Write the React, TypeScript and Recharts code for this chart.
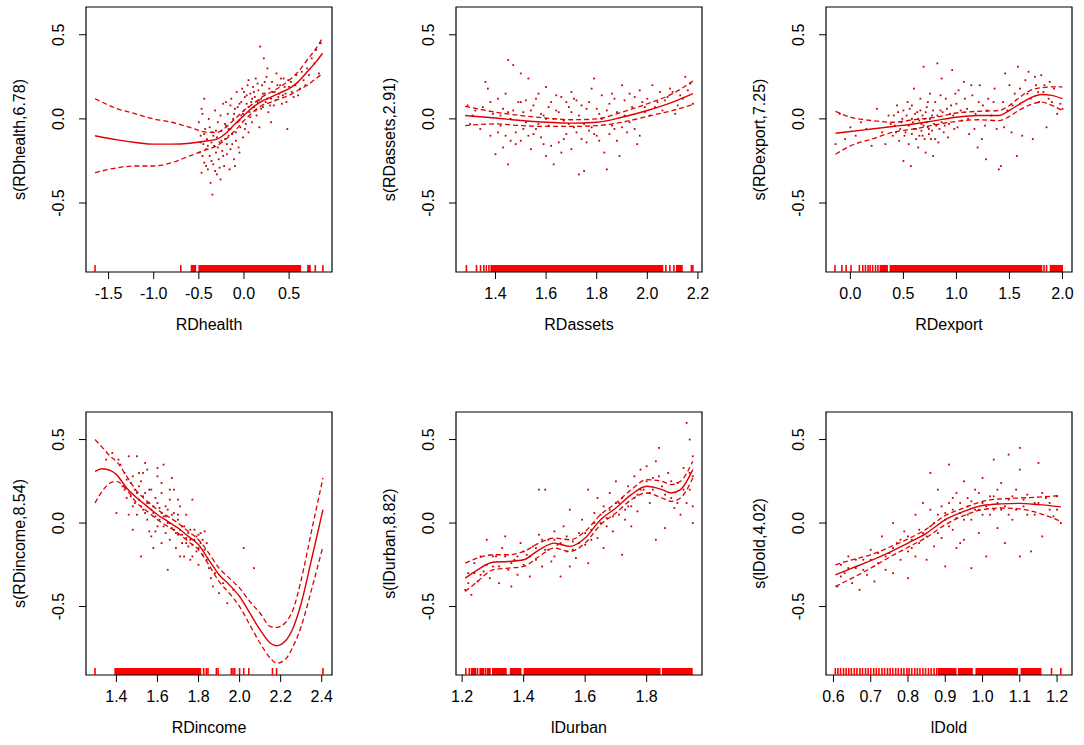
import React from 'react';
import { ComposedChart, Scatter, Line, XAxis, YAxis, ReferenceArea } from 'recharts';

const FONT = '"Liberation Sans", Arial, Helvetica, sans-serif';
const LINE = '#e00000';
const DOT = '#c40000';
const RUG = '#ff0000';
const Y_DOMAIN: [number, number] = [-0.91, 0.665];
const Y_TICKS = [-0.5, 0, 0.5];

// ---------- Panel 1: RDhealth ----------
const healthX = [-1.65, -1.4, -1.2, -1.0, -0.8, -0.6, -0.4, -0.3, -0.2, -0.1, 0.0, 0.1, 0.2, 0.3, 0.4, 0.5, 0.6, 0.7, 0.8, 0.87];
const healthFit = [-0.1, -0.125, -0.14, -0.15, -0.15, -0.145, -0.13, -0.12, -0.085, -0.03, 0.02, 0.07, 0.105, 0.13, 0.155, 0.18, 0.22, 0.28, 0.34, 0.39];
const healthUp = [0.12, 0.06, 0.03, 0.0, -0.02, -0.05, -0.08, -0.08, -0.05, 0.0, 0.05, 0.09, 0.13, 0.16, 0.19, 0.23, 0.28, 0.35, 0.42, 0.48];
const healthLo = [-0.32, -0.29, -0.28, -0.28, -0.26, -0.22, -0.18, -0.16, -0.12, -0.07, -0.01, 0.04, 0.08, 0.1, 0.12, 0.14, 0.17, 0.2, 0.24, 0.27];
const healthPts = [[-0.5,-0.02],[-0.49,-0.2],[-0.48,-0.1],[-0.47,-0.32],[-0.46,0.03],[-0.45,-0.15],[-0.44,-0.26],[-0.43,-0.06],[-0.42,-0.18],[-0.41,-0.12],[-0.4,-0.3],[-0.39,0.0],[-0.38,-0.22],[-0.37,-0.38],[-0.36,-0.14],[-0.35,-0.45],[-0.35,-0.08],[-0.34,-0.27],[-0.33,-0.16],[-0.32,0.05],[-0.31,-0.2],[-0.3,-0.33],[-0.3,-0.11],[-0.29,-0.02],[-0.28,-0.24],[-0.27,-0.14],[-0.26,-0.36],[-0.25,-0.07],[-0.24,-0.19],[-0.23,0.09],[-0.22,-0.28],[-0.21,-0.12],[-0.2,-0.04],[-0.19,-0.21],[-0.18,0.03],[-0.17,-0.1],[-0.16,-0.3],[-0.15,-0.06],[-0.14,0.12],[-0.13,-0.15],[-0.12,0.0],[-0.11,-0.24],[-0.1,0.06],[-0.09,-0.08],[-0.08,0.16],[-0.07,-0.02],[-0.06,-0.17],[-0.05,0.09],[-0.04,-0.05],[-0.03,0.02],[-0.02,0.18],[-0.01,-0.11],[0.0,0.05],[0.01,0.13],[0.02,-0.03],[0.03,0.09],[0.04,0.2],[0.05,-0.08],[0.06,0.04],[0.07,0.15],[0.08,0.1],[0.09,-0.02],[0.1,0.19],[0.11,0.07],[0.12,0.13],[0.13,0.24],[0.14,0.02],[0.15,0.1],[0.16,0.17],[0.17,-0.05],[0.18,0.43],[0.19,0.12],[0.2,0.2],[0.21,0.07],[0.22,0.36],[0.23,0.15],[0.24,0.1],[0.25,0.25],[0.27,0.04],[0.28,0.18],[0.3,0.12],[0.31,0.22],[0.33,0.08],[0.34,0.16],[0.36,0.27],[0.38,0.13],[0.4,0.2],[0.42,0.09],[0.44,0.24],[0.46,0.15],[0.48,-0.06],[0.5,0.19],[0.52,0.22],[0.55,0.13],[0.58,0.26],[0.62,0.18],[0.66,0.23],[0.7,0.3],[0.75,0.36],[0.8,0.41],[0.83,0.27],[0.85,0.45],[-0.44,0.12],[-0.26,0.02],[-0.1,-0.28],[0.05,0.23],[0.3,-0.02],[-0.05,-0.2],
  [-0.48,-0.14],[-0.46,-0.22],[-0.44,-0.09],[-0.42,-0.28],[-0.4,-0.16],[-0.38,-0.05],[-0.36,-0.25],[-0.34,-0.1],[-0.32,-0.31],[-0.31,-0.07],[-0.29,-0.17],[-0.27,-0.29],[-0.25,-0.13],[-0.23,-0.22],[-0.21,-0.03],[-0.19,-0.15],[-0.17,-0.06],[-0.15,-0.18],[-0.13,-0.09],[-0.11,0.03],[-0.09,-0.13],[-0.07,0.07],[-0.05,-0.01],[-0.03,0.1],[-0.01,0.03],[0.01,-0.06],[0.03,0.14],[0.05,0.07],[0.07,0.01],[0.09,0.12],[0.11,0.16],[0.13,0.05],[0.15,0.21],[0.17,0.11],[0.19,0.06],[0.21,0.15],[0.23,0.22],[0.26,0.12],[0.29,0.08],[0.32,0.16],[0.35,0.11],[0.37,0.2],[0.39,0.15],[0.41,0.24],[0.43,0.14],[0.45,0.19],[0.47,0.1],[0.49,0.23],[0.53,0.16],[0.57,0.2],[0.6,0.14],[0.64,0.28],[0.68,0.2],[0.72,0.26],[0.78,0.33],[-0.47,0.06],[-0.2,0.1],[0.0,0.16],[0.26,0.3],[-0.15,0.08]];
const healthRug = [-1.65, -0.7, 0.79, 0.874];
const healthRugBlocks = [[-0.59, -0.53], [-0.505, 0.633], [0.7, 0.74]];

// ---------- Panel 2: RDassets ----------
const assetsX = [1.28, 1.4, 1.5, 1.6, 1.7, 1.8, 1.9, 2.0, 2.1, 2.18];
const assetsFit = [0.02, 0.005, -0.01, -0.02, -0.025, -0.02, 0.01, 0.05, 0.1, 0.15];
const assetsUp = [0.075, 0.04, 0.02, 0.005, -0.005, 0.0, 0.04, 0.09, 0.15, 0.225];
const assetsLo = [-0.04, -0.03, -0.04, -0.045, -0.045, -0.04, -0.02, 0.015, 0.05, 0.085];
const assetsPts = [[1.29,0.08],[1.3,-0.03],[1.32,0.05],[1.34,-0.06],[1.36,0.22],[1.37,0.18],[1.38,-0.1],[1.39,0.03],[1.4,-0.21],[1.41,0.12],[1.42,-0.04],[1.43,0.06],[1.43,-0.17],[1.44,0.15],[1.45,-0.27],[1.45,0.35],[1.46,0.0],[1.47,0.32],[1.48,-0.08],[1.49,0.1],[1.5,0.27],[1.5,-0.13],[1.51,0.04],[1.52,-0.02],[1.53,0.24],[1.54,-0.18],[1.55,0.08],[1.56,-0.06],[1.57,0.15],[1.58,-0.11],[1.59,0.02],[1.6,0.19],[1.6,-0.22],[1.61,-0.04],[1.62,0.1],[1.63,-0.27],[1.64,0.05],[1.65,-0.14],[1.66,0.13],[1.67,-0.01],[1.68,-0.09],[1.69,0.07],[1.7,0.16],[1.7,-0.18],[1.71,-0.05],[1.72,0.11],[1.73,-0.33],[1.73,0.02],[1.74,-0.12],[1.75,-0.31],[1.76,0.06],[1.77,-0.07],[1.78,0.18],[1.79,0.24],[1.8,-0.1],[1.81,0.03],[1.82,0.14],[1.83,-0.2],[1.84,-0.3],[1.85,0.09],[1.86,-0.04],[1.87,0.12],[1.88,-0.13],[1.89,-0.22],[1.9,0.2],[1.91,0.02],[1.92,-0.08],[1.93,0.15],[1.94,0.07],[1.95,-0.06],[1.96,-0.15],[1.97,0.17],[1.98,0.1],[1.99,0.04],[2.0,0.12],[2.02,0.2],[2.03,0.07],[2.05,0.16],[2.07,0.11],[2.09,0.18],[2.11,0.03],[2.13,0.14],[2.15,0.25],[2.17,0.21],[2.18,0.09],[1.52,0.11],[1.66,-0.2],[1.57,-0.03],[1.84,0.05],[1.62,-0.16],[1.77,0.1],[1.46,-0.13],
  [1.31,0.02],[1.35,0.07],[1.38,0.1],[1.41,-0.08],[1.42,0.02],[1.44,-0.1],[1.47,0.05],[1.48,-0.15],[1.5,0.1],[1.51,-0.06],[1.53,-0.1],[1.54,0.05],[1.56,0.12],[1.58,0.03],[1.59,-0.15],[1.61,0.07],[1.63,0.0],[1.64,0.14],[1.65,0.04],[1.67,-0.12],[1.68,0.1],[1.69,-0.03],[1.71,0.12],[1.72,-0.08],[1.74,0.08],[1.75,-0.03],[1.76,-0.14],[1.78,-0.05],[1.8,0.06],[1.81,-0.13],[1.82,0.0],[1.85,-0.09],[1.86,0.15],[1.88,0.04],[1.9,-0.05],[1.91,0.11],[1.93,-0.02],[1.95,0.13],[1.97,-0.1],[1.99,0.07],[2.01,0.02],[2.04,0.1],[2.06,0.05],[2.08,0.13],[2.1,0.16],[2.12,0.08],[2.14,0.12],[2.16,0.17],[1.45,0.04],[1.55,-0.09],[1.6,0.0],[1.7,0.04],[1.79,-0.09],[1.87,-0.06]];
const assetsRug = [1.285, 1.325, 1.341, 1.354, 1.364, 1.374, 2.073, 2.089, 2.105, 2.174, 2.18];
const assetsRugBlocks = [[1.38, 2.063], [2.113, 2.14]];

// ---------- Panel 3: RDexport ----------
const exportX = [-0.14, 0.0, 0.2, 0.4, 0.6, 0.8, 1.0, 1.2, 1.4, 1.5, 1.6, 1.7, 1.8, 1.9, 2.0];
const exportFit = [-0.085, -0.075, -0.06, -0.045, -0.03, -0.01, 0.01, 0.02, 0.02, 0.05, 0.09, 0.125, 0.145, 0.14, 0.12];
const exportUp = [0.045, 0.01, -0.01, -0.02, -0.005, 0.01, 0.035, 0.045, 0.05, 0.08, 0.13, 0.17, 0.185, 0.19, 0.19];
const exportLo = [-0.21, -0.16, -0.12, -0.08, -0.06, -0.035, -0.015, -0.005, -0.01, 0.015, 0.055, 0.085, 0.1, 0.08, 0.05];
const exportPts = [[-0.14,-0.15],[-0.1,0.03],[-0.05,-0.12],[0.0,-0.05],[0.05,-0.1],[0.1,-0.02],[0.15,-0.06],[0.2,-0.16],[0.25,0.06],[0.3,-0.08],[0.33,-0.15],[0.36,0.02],[0.4,-0.1],[0.42,-0.04],[0.44,0.08],[0.46,-0.13],[0.48,-0.02],[0.5,0.05],[0.5,-0.25],[0.52,-0.08],[0.54,0.1],[0.55,-0.15],[0.57,-0.28],[0.58,0.0],[0.6,-0.06],[0.6,0.18],[0.62,-0.12],[0.63,0.04],[0.64,-0.17],[0.66,0.12],[0.67,-0.03],[0.68,-0.1],[0.69,0.31],[0.7,0.0],[0.71,-0.2],[0.72,0.07],[0.73,-0.05],[0.75,0.15],[0.76,-0.12],[0.77,0.02],[0.78,-0.22],[0.8,0.1],[0.81,-0.04],[0.82,0.33],[0.83,-0.14],[0.85,0.05],[0.86,0.24],[0.88,-0.08],[0.9,0.12],[0.92,-0.11],[0.94,0.03],[0.96,0.29],[0.98,-0.06],[1.0,0.09],[1.02,0.17],[1.05,-0.01],[1.07,0.22],[1.1,0.06],[1.12,-0.09],[1.15,0.14],[1.18,0.03],[1.2,-0.17],[1.22,0.2],[1.25,0.08],[1.27,-0.04],[1.28,-0.24],[1.3,0.12],[1.33,0.02],[1.36,0.18],[1.38,-0.06],[1.4,-0.3],[1.42,-0.28],[1.44,0.1],[1.46,0.27],[1.48,0.05],[1.5,0.2],[1.52,-0.08],[1.55,0.15],[1.57,-0.22],[1.58,0.31],[1.6,0.09],[1.62,-0.1],[1.65,0.23],[1.68,0.28],[1.7,0.12],[1.72,-0.12],[1.75,0.2],[1.78,0.1],[1.8,0.26],[1.82,0.16],[1.85,-0.05],[1.88,0.22],[1.9,0.1],[1.95,0.03],[2.0,0.06],[0.65,-0.01],[0.74,-0.06],[0.86,-0.02],[0.58,0.08],
  [0.38,-0.03],[0.41,0.02],[0.43,-0.08],[0.45,0.04],[0.47,-0.06],[0.49,0.0],[0.51,-0.1],[0.53,0.02],[0.55,-0.04],[0.56,0.06],[0.58,-0.09],[0.59,-0.02],[0.61,0.03],[0.62,-0.06],[0.64,0.0],[0.65,-0.1],[0.66,0.05],[0.67,-0.07],[0.68,0.02],[0.69,-0.04],[0.7,-0.12],[0.71,0.04],[0.72,-0.02],[0.73,0.1],[0.74,-0.09],[0.75,0.0],[0.77,-0.07],[0.78,0.05],[0.79,-0.03],[0.8,-0.12],[0.82,0.02],[0.84,-0.06],[0.85,0.14],[0.87,0.04],[0.89,-0.04],[0.91,0.06],[0.93,-0.03],[0.95,0.08],[0.97,0.02],[0.99,0.15],[1.01,-0.05],[1.04,0.05],[1.08,0.12],[1.11,0.0],[1.14,0.2],[1.17,-0.06],[1.21,0.1],[1.24,-0.12],[1.29,0.05],[1.35,0.1],[1.45,-0.05],[1.53,0.08],[1.6,0.18],[1.67,0.15],[1.74,0.25],[1.77,0.16],[1.83,0.2],[1.87,0.12],[1.92,0.18],[1.98,0.09]];
const exportRug = [-0.145, -0.08, -0.04, 0.006, 0.085, 0.117, 0.142, 0.167, 0.186, 0.21, 0.237, 0.26, 1.826, 1.85];
const exportRugBlocks = [[0.275, 0.354], [0.37, 1.81], [1.88, 2.005]];

// ---------- Panel 4: RDincome ----------
const incomeX = [1.296, 1.33, 1.37, 1.4, 1.45, 1.5, 1.55, 1.6, 1.65, 1.7, 1.75, 1.8, 1.85, 1.9, 1.95, 2.0, 2.05, 2.1, 2.15, 2.18, 2.22, 2.26, 2.3, 2.35, 2.406];
const incomeFit = [0.31, 0.325, 0.315, 0.29, 0.21, 0.15, 0.1, 0.05, 0.01, -0.03, -0.08, -0.13, -0.22, -0.31, -0.37, -0.44, -0.54, -0.64, -0.72, -0.735, -0.71, -0.63, -0.48, -0.22, 0.08];
const incomeUp = [0.5, 0.455, 0.4, 0.37, 0.28, 0.19, 0.13, 0.08, 0.04, 0.0, -0.05, -0.1, -0.18, -0.27, -0.33, -0.39, -0.47, -0.54, -0.62, -0.625, -0.6, -0.52, -0.34, -0.05, 0.27];
const incomeLo = [0.12, 0.19, 0.24, 0.25, 0.2, 0.12, 0.07, 0.02, -0.02, -0.06, -0.11, -0.16, -0.25, -0.35, -0.42, -0.5, -0.61, -0.72, -0.81, -0.84, -0.82, -0.74, -0.62, -0.4, -0.14];
const incomePts = [[1.38,0.42],[1.4,0.06],[1.42,0.35],[1.43,0.22],[1.44,0.3],[1.45,0.15],[1.46,0.4],[1.47,0.24],[1.48,0.1],[1.49,0.2],[1.5,0.4],[1.5,0.05],[1.51,0.14],[1.52,-0.2],[1.52,0.25],[1.53,0.08],[1.54,0.18],[1.55,0.02],[1.55,0.32],[1.56,0.12],[1.57,-0.08],[1.57,0.2],[1.58,0.06],[1.59,0.15],[1.6,-0.02],[1.6,0.28],[1.61,0.09],[1.62,-0.12],[1.62,0.18],[1.63,0.04],[1.63,0.35],[1.64,-0.06],[1.64,0.1],[1.65,0.0],[1.65,-0.28],[1.66,0.14],[1.66,-0.1],[1.67,0.05],[1.68,-0.04],[1.68,0.2],[1.69,-0.15],[1.7,0.02],[1.7,-0.07],[1.71,0.1],[1.72,-0.12],[1.72,-0.02],[1.73,-0.2],[1.74,0.05],[1.74,-0.09],[1.75,-0.14],[1.76,-0.04],[1.76,-0.22],[1.77,0.14],[1.78,-0.1],[1.79,-0.17],[1.8,-0.07],[1.8,-0.25],[1.81,-0.12],[1.82,-0.19],[1.83,-0.05],[1.84,-0.22],[1.85,-0.27],[1.86,-0.33],[1.87,-0.38],[1.88,-0.3],[1.9,-0.42],[1.92,-0.36],[1.94,-0.48],[1.97,-0.4],[2.02,-0.15],[2.07,-0.27],[1.58,-0.15],[1.53,0.3],[1.46,0.05],[1.41,0.38],[1.48,-0.04],[1.67,0.27],[1.59,-0.05],[1.71,-0.2],[1.35,0.38],
  [1.44,0.2],[1.45,0.26],[1.47,0.16],[1.48,0.28],[1.49,0.12],[1.5,0.18],[1.51,0.22],[1.52,0.1],[1.53,0.16],[1.54,0.06],[1.55,0.12],[1.56,0.2],[1.57,0.08],[1.58,0.1],[1.59,0.04],[1.6,0.12],[1.61,0.02],[1.62,0.06],[1.63,-0.02],[1.64,0.04],[1.65,0.08],[1.66,0.0],[1.67,-0.03],[1.68,0.06],[1.69,-0.06],[1.7,0.05],[1.71,-0.04],[1.72,-0.07],[1.73,-0.02],[1.74,-0.12],[1.75,-0.06],[1.76,-0.1],[1.77,-0.13],[1.78,-0.04],[1.79,-0.08],[1.8,-0.15],[1.81,-0.06],[1.82,-0.1],[1.83,-0.16],[1.84,-0.12],[1.62,0.24],[1.66,0.2],[1.56,-0.05],[1.6,0.33],[1.7,0.14],[1.77,-0.2],[1.51,0.3],[1.54,0.36]];
const incomeRug = [1.296, 1.825, 1.838, 1.846, 1.887, 1.895, 1.96, 1.968, 1.976, 2.0, 2.02, 2.045, 2.16, 2.18, 2.406];
const incomeRugBlocks = [[1.39, 1.813]];

// ---------- Panel 5: lDurban ----------
const urbanX = [1.21, 1.25, 1.3, 1.35, 1.4, 1.45, 1.5, 1.55, 1.6, 1.65, 1.7, 1.75, 1.8, 1.85, 1.88, 1.91, 1.95];
const urbanFit = [-0.33, -0.28, -0.235, -0.23, -0.22, -0.16, -0.12, -0.14, -0.09, 0.02, 0.09, 0.17, 0.22, 0.2, 0.18, 0.2, 0.32];
const urbanUp = [-0.24, -0.21, -0.19, -0.19, -0.17, -0.12, -0.09, -0.1, -0.05, 0.05, 0.12, 0.2, 0.26, 0.25, 0.23, 0.25, 0.37];
const urbanLo = [-0.41, -0.35, -0.28, -0.27, -0.26, -0.2, -0.15, -0.17, -0.12, -0.01, 0.06, 0.14, 0.18, 0.15, 0.13, 0.15, 0.27];
const urbanPts = [[1.21,-0.4],[1.22,-0.3],[1.23,-0.43],[1.24,-0.24],[1.25,-0.35],[1.26,-0.2],[1.27,-0.29],[1.28,-0.1],[1.29,-0.33],[1.3,-0.26],[1.31,-0.2],[1.32,-0.36],[1.33,-0.15],[1.34,-0.08],[1.35,-0.28],[1.36,-0.38],[1.37,-0.22],[1.38,-0.31],[1.39,-0.12],[1.4,-0.25],[1.41,-0.19],[1.42,-0.32],[1.43,-0.14],[1.44,-0.22],[1.45,0.2],[1.45,-0.07],[1.46,-0.26],[1.47,0.2],[1.47,-0.16],[1.48,-0.1],[1.49,-0.23],[1.5,-0.05],[1.5,-0.2],[1.51,-0.13],[1.52,-0.32],[1.53,-0.02],[1.54,-0.17],[1.55,0.08],[1.55,-0.26],[1.56,-0.11],[1.57,-0.21],[1.58,-0.06],[1.59,0.02],[1.6,-0.13],[1.61,-0.24],[1.61,0.2],[1.62,-0.04],[1.63,0.06],[1.64,-0.09],[1.64,0.15],[1.65,0.0],[1.66,-0.15],[1.66,0.1],[1.67,0.03],[1.68,0.18],[1.69,-0.05],[1.7,0.12],[1.7,0.25],[1.71,0.05],[1.72,-0.19],[1.72,0.15],[1.73,0.08],[1.74,0.22],[1.75,0.1],[1.75,-0.02],[1.76,0.28],[1.77,0.17],[1.78,0.32],[1.79,0.2],[1.8,0.34],[1.81,0.12],[1.82,0.27],[1.83,-0.1],[1.83,0.37],[1.84,0.45],[1.85,0.22],[1.86,-0.03],[1.87,0.3],[1.88,0.15],[1.89,0.09],[1.9,0.24],[1.91,0.05],[1.92,0.33],[1.93,0.12],[1.93,0.6],[1.94,0.5],[1.94,0.2],[1.95,0.4],[1.95,0.0],[1.95,0.28],
  [1.22,-0.36],[1.24,-0.3],[1.26,-0.31],[1.28,-0.25],[1.3,-0.2],[1.32,-0.26],[1.34,-0.2],[1.36,-0.24],[1.38,-0.2],[1.4,-0.17],[1.42,-0.2],[1.44,-0.15],[1.46,-0.1],[1.48,-0.16],[1.5,-0.1],[1.52,-0.12],[1.54,-0.08],[1.56,-0.16],[1.58,-0.12],[1.6,-0.06],[1.62,-0.1],[1.63,0.0],[1.65,0.05],[1.67,-0.02],[1.68,0.08],[1.69,0.04],[1.71,0.12],[1.73,0.02],[1.74,0.1],[1.76,0.15],[1.77,0.07],[1.78,0.2],[1.8,0.25],[1.81,0.18],[1.82,0.2],[1.84,0.28],[1.86,0.17],[1.88,0.25],[1.9,0.12],[1.92,0.2],[1.94,0.3],[1.95,0.1]];
const urbanRug = [1.212, 1.223, 1.25, 1.276];
const urbanRugBlocks = [[1.228, 1.246], [1.256, 1.272], [1.28, 1.293], [1.297, 1.345], [1.355, 1.393], [1.4, 1.845], [1.85, 1.95]];

// ---------- Panel 6: lDold ----------
const oldX = [0.605, 0.65, 0.7, 0.75, 0.8, 0.85, 0.9, 0.95, 1.0, 1.05, 1.1, 1.15, 1.21];
const oldFit = [-0.31, -0.27, -0.225, -0.175, -0.12, -0.06, 0.02, 0.07, 0.105, 0.115, 0.118, 0.11, 0.097];
const oldUp = [-0.25, -0.22, -0.19, -0.145, -0.095, -0.035, 0.045, 0.09, 0.13, 0.145, 0.15, 0.155, 0.165];
const oldLo = [-0.38, -0.33, -0.27, -0.205, -0.145, -0.085, -0.01, 0.045, 0.08, 0.09, 0.085, 0.06, 0.01];
const oldPts = [[0.61,-0.38],[0.62,-0.25],[0.63,-0.3],[0.64,-0.2],[0.65,-0.36],[0.66,-0.27],[0.67,-0.4],[0.68,-0.22],[0.69,-0.31],[0.7,-0.16],[0.71,-0.35],[0.72,-0.24],[0.73,-0.08],[0.74,-0.28],[0.75,-0.18],[0.76,0.0],[0.76,-0.3],[0.77,-0.12],[0.78,-0.22],[0.79,-0.05],[0.8,-0.17],[0.8,-0.33],[0.81,-0.1],[0.82,0.05],[0.82,-0.2],[0.83,-0.12],[0.84,0.12],[0.84,-0.06],[0.85,-0.22],[0.86,-0.02],[0.86,0.3],[0.87,-0.14],[0.88,0.05],[0.88,0.2],[0.89,-0.09],[0.9,0.02],[0.9,-0.26],[0.91,0.35],[0.91,0.12],[0.92,-0.04],[0.93,0.18],[0.93,-0.15],[0.94,0.06],[0.95,0.25],[0.95,-0.1],[0.96,0.1],[0.97,-0.27],[0.97,0.02],[0.98,0.2],[0.99,-0.06],[1.0,0.27],[1.0,0.12],[1.01,-0.2],[1.02,0.05],[1.03,0.38],[1.03,0.16],[1.04,-0.03],[1.05,0.24],[1.05,0.08],[1.06,-0.12],[1.07,0.41],[1.07,0.14],[1.08,0.02],[1.09,0.2],[1.1,-0.2],[1.1,0.32],[1.11,0.1],[1.12,0.17],[1.13,-0.17],[1.14,0.05],[1.15,0.36],[1.15,0.12],[1.16,-0.08],[1.17,0.15],[1.18,0.08],[1.19,0.04],[1.2,0.16],[1.21,0.0],[1.1,0.45],[0.96,0.15],[0.94,-0.12],[0.99,0.08],[1.04,0.12],[0.92,0.08],
  [0.62,-0.32],[0.64,-0.27],[0.66,-0.22],[0.68,-0.28],[0.7,-0.22],[0.72,-0.18],[0.74,-0.2],[0.76,-0.15],[0.78,-0.1],[0.8,-0.08],[0.81,-0.15],[0.83,-0.04],[0.85,-0.08],[0.86,0.08],[0.87,0.0],[0.88,-0.06],[0.89,0.1],[0.9,0.06],[0.91,-0.02],[0.92,0.15],[0.93,0.03],[0.94,0.12],[0.95,0.02],[0.96,0.05],[0.97,0.13],[0.98,0.08],[0.99,0.18],[1.0,0.05],[1.01,0.1],[1.02,0.16],[1.03,0.08],[1.04,0.2],[1.06,0.1],[1.07,0.05],[1.08,0.16],[1.09,0.08],[1.11,0.14],[1.12,0.05],[1.14,0.12],[1.16,0.18],[1.18,0.12],[1.2,0.08]];
const oldRug = [0.605, 0.612, 0.619, 0.627, 0.634, 0.641, 0.648, 0.656, 0.663, 0.671, 0.678, 0.686, 0.693, 0.7, 0.708, 0.715, 0.722, 0.73, 0.737, 0.745, 0.752, 0.759, 0.767, 0.774, 0.782, 0.789, 0.797, 0.803, 0.81, 0.818, 0.825, 0.832, 0.84, 0.847, 0.855, 0.862, 0.87, 0.877, 1.185, 1.21];
const oldRugBlocks = [[0.88, 0.93], [0.934, 0.974], [0.981, 1.095], [1.102, 1.158]];

const RUG_H = 0.042;

const DotShape = (props: any) => (
  <rect x={props.cx - 0.9} y={props.cy - 0.9} width={1.8} height={1.8} fill={DOT} />
);
const RugShape = (props: any) => (
  <line x1={props.cx} x2={props.cx} y1={props.cy} y2={props.cy - 7} stroke={RUG} strokeWidth={1.6} />
);
const YTick = (props: any) => {
  const { y, payload } = props;
  const bx = 64;
  return (
    <text x={bx} y={y} transform={`rotate(-90 ${bx} ${y})`} textAnchor="middle" fontSize={16} fontFamily={FONT} fill="#000">
      {Number(payload.value).toFixed(1)}
    </text>
  );
};

type PanelProps = {
  left: number; top: number; plotH: number;
  xDomain: [number, number]; xTicks: number[];
  xLabel: string; yLabel: string;
  cx: number[]; fit: number[]; up: number[]; lo: number[];
  pts: number[][]; rug: number[]; rugBlocks: number[][];
};

function Panel(p: PanelProps) {
  const fitData = p.cx.map((x, i) => ({ x, y: p.fit[i] }));
  const upData = p.cx.map((x, i) => ({ x, y: p.up[i] }));
  const loData = p.cx.map((x, i) => ({ x, y: p.lo[i] }));
  const ptData = p.pts.map(([x, y]) => ({ x, y }));
  const rugData = p.rug.map((x) => ({ x, y: Y_DOMAIN[0] }));
  const MT = 7;
  const AXH = 73;
  const H = MT + p.plotH + AXH;
  const midY = MT + p.plotH / 2;
  return (
    <div style={{ position: 'absolute', left: p.left, top: p.top }}>
      <ComposedChart width={370} height={H} margin={{ top: MT, right: 38, bottom: 0, left: 0 }}>
        <XAxis
          type="number" dataKey="x" domain={p.xDomain} ticks={p.xTicks} interval={0} allowDataOverflow
          axisLine={false} tickLine={{ stroke: '#000' }} tickSize={7} tickMargin={9} height={AXH}
          tick={{ fill: '#000', fontSize: 16, fontFamily: FONT }}
          tickFormatter={(v: number) => v.toFixed(1)}
          label={() => (
            <text x={86 + 123} y={MT + p.plotH + 58} textAnchor="middle" fontSize={16} fontFamily={FONT} fill="#000">{p.xLabel}</text>
          )}
        />
        <YAxis
          type="number" domain={Y_DOMAIN} ticks={Y_TICKS} interval={0} allowDataOverflow width={86}
          axisLine={false} tickLine={{ stroke: '#000' }} tickSize={7} tick={<YTick />}
          label={() => (
            <text x={25} y={midY} transform={`rotate(-90 25 ${midY})`} textAnchor="middle" fontSize={16} fontFamily={FONT} fill="#000">{p.yLabel}</text>
          )}
        />
        {p.rugBlocks.map((b, i) => (
          <ReferenceArea key={'rb' + i} x1={b[0]} x2={b[1]} y1={Y_DOMAIN[0]} y2={Y_DOMAIN[0] + RUG_H} fill={RUG} fillOpacity={1} stroke="none" />
        ))}
        <Scatter data={rugData} dataKey="y" shape={RugShape} isAnimationActive={false} />
        <Scatter data={ptData} dataKey="y" shape={DotShape} isAnimationActive={false} />
        <Line data={upData} dataKey="y" type="monotone" stroke={LINE} strokeWidth={1.3} strokeDasharray="5 3" dot={false} activeDot={false} isAnimationActive={false} />
        <Line data={loData} dataKey="y" type="monotone" stroke={LINE} strokeWidth={1.3} strokeDasharray="5 3" dot={false} activeDot={false} isAnimationActive={false} />
        <Line data={fitData} dataKey="y" type="monotone" stroke={LINE} strokeWidth={1.4} dot={false} activeDot={false} isAnimationActive={false} />
        <ReferenceArea x1={p.xDomain[0]} x2={p.xDomain[1]} y1={Y_DOMAIN[0]} y2={Y_DOMAIN[1]} fill="none" stroke="#000" strokeWidth={1.2} ifOverflow="visible" />
      </ComposedChart>
    </div>
  );
}

export default function App() {
  return (
    <div style={{ position: 'absolute', left: 0, top: 0, width: 1084, height: 745, background: '#fff', overflow: 'hidden' }}>
      <Panel left={0} top={0} plotH={265} xDomain={[-1.75, 0.975]} xTicks={[-1.5, -1.0, -0.5, 0.0, 0.5]}
        xLabel="RDhealth" yLabel="s(RDhealth,6.78)" cx={healthX} fit={healthFit} up={healthUp} lo={healthLo}
        pts={healthPts} rug={healthRug} rugBlocks={healthRugBlocks} />
      <Panel left={370} top={0} plotH={265} xDomain={[1.244, 2.216]} xTicks={[1.4, 1.6, 1.8, 2.0, 2.2]}
        xLabel="RDassets" yLabel="s(RDassets,2.91)" cx={assetsX} fit={assetsFit} up={assetsUp} lo={assetsLo}
        pts={assetsPts} rug={assetsRug} rugBlocks={assetsRugBlocks} />
      <Panel left={740} top={0} plotH={265} xDomain={[-0.23, 2.09]} xTicks={[0.0, 0.5, 1.0, 1.5, 2.0]}
        xLabel="RDexport" yLabel="s(RDexport,7.25)" cx={exportX} fit={exportFit} up={exportUp} lo={exportLo}
        pts={exportPts} rug={exportRug} rugBlocks={exportRugBlocks} />
      <Panel left={0} top={405} plotH={263} xDomain={[1.252, 2.45]} xTicks={[1.4, 1.6, 1.8, 2.0, 2.2, 2.4]}
        xLabel="RDincome" yLabel="s(RDincome,8.54)" cx={incomeX} fit={incomeFit} up={incomeUp} lo={incomeLo}
        pts={incomePts} rug={incomeRug} rugBlocks={incomeRugBlocks} />
      <Panel left={370} top={405} plotH={263} xDomain={[1.18, 1.98]} xTicks={[1.2, 1.4, 1.6, 1.8]}
        xLabel="lDurban" yLabel="s(lDurban,8.82)" cx={urbanX} fit={urbanFit} up={urbanUp} lo={urbanLo}
        pts={urbanPts} rug={urbanRug} rugBlocks={urbanRugBlocks} />
      <Panel left={740} top={405} plotH={263} xDomain={[0.58, 1.24]} xTicks={[0.6, 0.7, 0.8, 0.9, 1.0, 1.1, 1.2]}
        xLabel="lDold" yLabel="s(lDold,4.02)" cx={oldX} fit={oldFit} up={oldUp} lo={oldLo}
        pts={oldPts} rug={oldRug} rugBlocks={oldRugBlocks} />
    </div>
  );
}
